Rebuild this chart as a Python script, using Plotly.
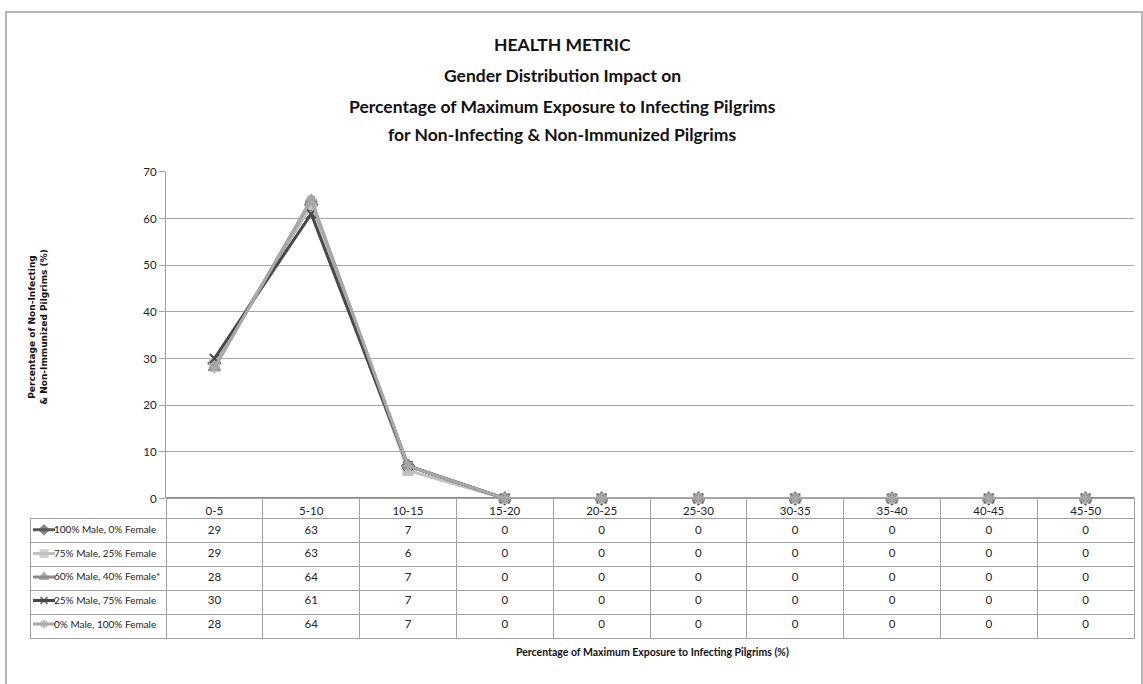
import plotly.graph_objects as go

# Exposure bins and per-scenario percentages
categories = ["0-5", "5-10", "10-15", "15-20", "20-25", "25-30", "30-35", "35-40", "40-45", "45-50"]
series_names = [
    "100% Male, 0% Female",
    "75% Male, 25% Female",
    "60% Male, 40% Female*",
    "25% Male, 75% Female",
    "0% Male, 100% Female",
]
male100 = [29, 63, 7, 0, 0, 0, 0, 0, 0, 0]
male75 = [29, 63, 6, 0, 0, 0, 0, 0, 0, 0]
male60 = [28, 64, 7, 0, 0, 0, 0, 0, 0, 0]
male25 = [30, 61, 7, 0, 0, 0, 0, 0, 0, 0]
male0 = [28, 64, 7, 0, 0, 0, 0, 0, 0, 0]
y_ticks = [0, 10, 20, 30, 40, 50, 60, 70]
title_lines = [
    "HEALTH METRIC",
    "Gender Distribution Impact on",
    "Percentage of Maximum Exposure to Infecting Pilgrims",
    "for Non-Infecting & Non-Immunized Pilgrims",
]

W, H = 1143, 684
FONT = "Lato, sans-serif"
TXT = "#222222"
GRID = "#a0a0a0"

def px_x(v):
    return v / W

def px_y(v):
    return 1 - v / H

values = [male100, male75, male60, male25, male0]
colors = ["#5a5a5a", "#c0c0c0", "#8c8c8c", "#484848", "#a8a8a8"]
symbols = ["diamond", "square", "triangle-up", "x-thin-open", "asterisk-open"]
msizes = [9, 9, 10, 9, 9]

plot_left, plot_right = 166, 1134
plot_top, plot_bottom = 168, 501
table_left, table_bottom = 30, 642
header_h, row_h = 20, 24

fig = go.Figure()

# the five scenario lines
for name, vals, col, sym, ms in zip(series_names, values, colors, symbols, msizes):
    fig.add_trace(go.Scatter(
        x=categories, y=vals, name=name, mode="lines+markers",
        line=dict(color=col, width=3),
        marker=dict(symbol=sym, size=ms, color=col, line=dict(color=col, width=2)),
        showlegend=False, cliponaxis=False,
    ))

# data table grid and header under the plot
n_rows = len(series_names)
col_w = (plot_right - plot_left) / len(categories)
fig.add_trace(go.Table(
    domain=dict(x=[px_x(table_left), px_x(plot_right)], y=[px_y(table_bottom + 4), px_y(plot_bottom)]),
    columnwidth=[plot_left - table_left] + [col_w] * len(categories),
    header=dict(
        values=[""] + categories, height=header_h, align="center",
        font=dict(family=FONT, size=11.5, color=TXT),
        fill=dict(color="rgba(0,0,0,0)"),
        line=dict(color=["rgba(0,0,0,0)"] + [GRID] * len(categories), width=1),
    ),
    cells=dict(
        values=[[""] * n_rows for _ in range(len(categories) + 1)], height=row_h, align="center",
        fill=dict(color="rgba(0,0,0,0)"),
        line=dict(color=GRID, width=1),
    ),
))

row_axis_h = table_bottom - plot_bottom
for i, (name, vals, col, sym, ms) in enumerate(zip(series_names, values, colors, symbols, msizes)):
    yc = header_h + row_h * i + row_h / 2
    # table values, placed on the category axis
    fig.add_trace(go.Scatter(
        x=categories, y=[yc + 1] * len(categories), mode="text", text=[str(v) for v in vals],
        textposition="middle center", textfont=dict(family=FONT, size=11.5, color=TXT),
        xaxis="x", yaxis="y2", showlegend=False, hoverinfo="skip", cliponaxis=False,
    ))
    # legend key and label in the first column
    fig.add_trace(go.Scatter(
        x=[3, 14, 25], y=[yc] * 3, mode="lines+markers", xaxis="x2", yaxis="y2",
        line=dict(color=col, width=3),
        marker=dict(symbol=sym, size=[0, ms - 2, 0], color=col, line=dict(color=col, width=2)),
        showlegend=False, hoverinfo="skip", cliponaxis=False,
    ))
    fig.add_trace(go.Scatter(
        x=[24], y=[yc + 1], mode="text", text=[name], textposition="middle right",
        textfont=dict(family=FONT, size=10, color=TXT),
        xaxis="x2", yaxis="y2", showlegend=False, hoverinfo="skip", cliponaxis=False,
    ))

title_y = [38, 70, 101, 130]
annotations = [
    dict(text="<b>%s</b>" % t.replace("&", "&amp;"), xref="paper", yref="paper",
         x=px_x(562), y=px_y(yy), xanchor="center", yanchor="middle", showarrow=False,
         font=dict(family=FONT, size=17.5, color="#111111"))
    for t, yy in zip(title_lines, title_y)
]
annotations += [
    dict(text="<b>Percentage of Non-Infecting</b><br><b>&amp; Non-Immunized Pilgrims (%)</b>",
         xref="paper", yref="paper", x=px_x(38), y=px_y(326), xanchor="center", yanchor="middle",
         textangle=-90, showarrow=False,
         font=dict(family="'DejaVu Sans', Verdana, sans-serif", size=9, color="#111111")),
    dict(text="<b>Percentage of Maximum Exposure to Infecting Pilgrims (%)</b>",
         xref="paper", yref="paper", x=px_x(652), y=px_y(657), xanchor="center", yanchor="middle",
         showarrow=False, font=dict(family=FONT, size=10.5, color="#111111")),
]

fig.update_layout(
    width=W, height=H,
    margin=dict(l=0, r=0, t=0, b=0),
    paper_bgcolor="white", plot_bgcolor="white",
    font=dict(family=FONT, color=TXT),
    xaxis=dict(
        domain=[px_x(plot_left), px_x(plot_right)],
        type="category", showticklabels=False, showgrid=False,
        showline=False, zeroline=False, ticks="", range=[-0.5, len(categories) - 0.5],
    ),
    yaxis=dict(
        domain=[px_y(plot_bottom), px_y(plot_top)],
        range=[0, 70], tickvals=y_ticks, showgrid=True, gridcolor="#a6a6a6", gridwidth=1,
        showline=True, linecolor=GRID, linewidth=1, zeroline=True, zerolinecolor="#8c8c8c",
        zerolinewidth=1.5,
        ticks="outside", ticklen=6, tickcolor=GRID,
        tickfont=dict(family=FONT, size=11.5, color=TXT),
    ),
    xaxis2=dict(
        domain=[px_x(table_left), px_x(plot_left)], range=[0, plot_left - table_left],
        visible=False, fixedrange=True,
    ),
    yaxis2=dict(
        domain=[px_y(table_bottom), px_y(plot_bottom)], range=[row_axis_h, 0],
        visible=False, fixedrange=True, anchor="x2",
    ),
    shapes=[
        dict(type="rect", xref="paper", yref="paper", x0=px_x(6), x1=px_x(1142), y0=px_y(700), y1=px_y(5),
             line=dict(color=GRID, width=1.5), fillcolor="rgba(0,0,0,0)", layer="below"),
    ],
    annotations=annotations,
)

fig.write_html("out.html")
